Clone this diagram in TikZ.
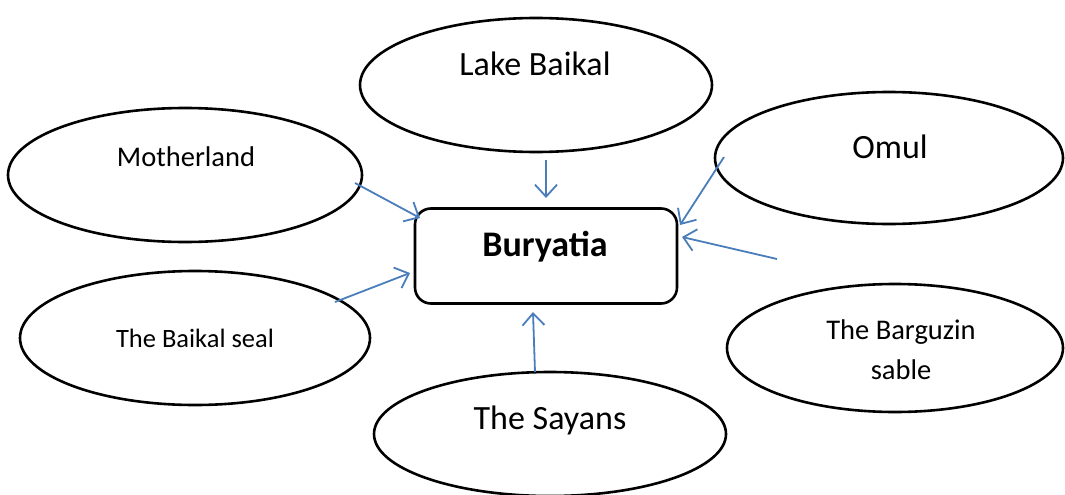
\documentclass[tikz,border=0pt]{standalone}
\usepackage{fontspec}
\setmainfont{Carlito}
\usetikzlibrary{shapes.geometric,arrows.meta}
\definecolor{arrowblue}{RGB}{74,126,187}
\tikzset{
  bubble/.style={ellipse, draw=black, line width=2.6pt, inner sep=0pt},
  centre/.style={draw=black, line width=2.6pt, rounded corners=16pt, minimum width=262pt, minimum height=95pt, inner sep=0pt},
  link/.style={draw=arrowblue, line width=1.8pt, -{Straight Barb[length=12pt,width=22pt,line width=1.8pt]}},
  txt/.style={inner sep=0pt, align=center}
}
\begin{document}
\begin{tikzpicture}[x=1pt,y=-1pt]
\useasboundingbox (0,0) rectangle (1065,495);
% ellipses
\node[bubble, minimum width=352pt, minimum height=134pt] (lakeE) at (536,85) {};
\node[bubble, minimum width=354pt, minimum height=134pt] (motherE) at (185,175) {};
\node[bubble, minimum width=348pt, minimum height=132pt] (omulE) at (889,158) {};
\node[bubble, minimum width=350pt, minimum height=134pt] (sealE) at (195,338) {};
\node[bubble, minimum width=336pt, minimum height=128pt] (sableE) at (895,348) {};
\node[bubble, minimum width=352pt, minimum height=124pt] (sayE) at (550,434) {};
% centre box
\node[centre] (bur) at (546,256) {};
% texts
\node[txt, font=\fontsize{34}{40}\selectfont] (lake) at (535,64) {Lake Baikal};
\node[txt, font=\fontsize{28.5}{34}\selectfont] (mother) at (186,157) {Motherland};
\node[txt, font=\fontsize{34}{40}\selectfont] (omul) at (890,147) {Omul};
\node[txt, font=\fontsize{26.5}{32}\selectfont] (seal) at (195,338) {The Baikal seal};
\node[txt, font=\fontsize{28.5}{40}\selectfont] (sable) at (901,350) {The Barguzin\\sable};
\node[txt, font=\fontsize{34}{40}\selectfont] (say) at (550,420) {The Sayans};
\node[txt, font=\fontsize{36}{42}\bfseries\selectfont] (burt) at (545,247) {Buryatia};
% arrow ends
\coordinate (m1) at (355,183); \coordinate (m2) at (420,218);
\coordinate (l1) at (546,160); \coordinate (l2) at (546,198);
\coordinate (o1) at (724,157); \coordinate (o2) at (680,225);
\coordinate (b1) at (777,259); \coordinate (b2) at (682,237);
\coordinate (s1) at (535,372); \coordinate (s2) at (533,312);
\coordinate (k1) at (335,302); \coordinate (k2) at (410,273);
\draw[link] (m1) -- (m2);
\draw[link] (l1) -- (l2);
\draw[link] (o1) -- (o2);
\draw[link] (b1) -- (b2);
\draw[link] (s1) -- (s2);
\draw[link] (k1) -- (k2);
\end{tikzpicture}
\end{document}
